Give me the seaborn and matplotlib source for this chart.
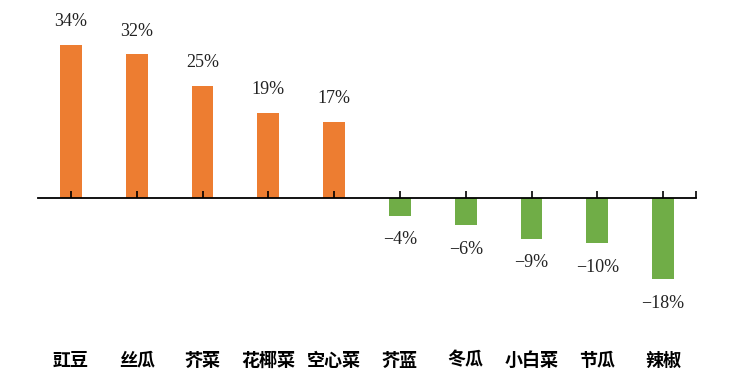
import matplotlib
matplotlib.use("Agg")
import matplotlib.pyplot as plt
import seaborn as sns
import pandas as pd

categories = ["豇豆", "丝瓜", "芥菜", "花椰菜", "空心菜", "芥蓝", "冬瓜", "小白菜", "节瓜", "辣椒"]
values = [34, 32, 25, 19, 17, -4, -6, -9, -10, -18]

df = pd.DataFrame({"cat": categories, "val": values})
df["sign"] = ["pos" if v >= 0 else "neg" for v in values]

sns.set_theme(style="white")
plt.rcParams["font.family"] = ["Noto Sans CJK SC", "DejaVu Sans"]

fig = plt.figure(figsize=(7.5, 3.87), dpi=100)
ax = fig.add_axes([38 / 750, 0, (696 - 38) / 750, 1])

sns.barplot(data=df, x="cat", y="val", hue="sign",
            palette={"pos": "#ED7D31", "neg": "#70AD47"},
            width=0.33, dodge=False, legend=False, ax=ax, saturation=1)
for p in ax.patches:
    p.set_zorder(1)
    p.set_linewidth(0)

ax.set_axisbelow(False)
ax.set_xlim(-0.5, 9.5)
ax.set_ylim(-(387 - 198) / 4.5, 198 / 4.5)

for s in ["top", "right", "left"]:
    ax.spines[s].set_visible(False)
ax.spines["bottom"].set_position(("data", 0))
ax.spines["bottom"].set_color("black")
ax.spines["bottom"].set_linewidth(1.3)
ax.spines["bottom"].set_zorder(5)
ax.set_yticks([])
ax.set_xticks(list(range(len(categories))) + [9.5])
ax.set_xticklabels([])
ax.tick_params(axis="x", direction="in", length=5, width=1.2, color="black", bottom=True)
ax.xaxis.set_zorder(5)
ax.set_xlabel("")
ax.set_ylabel("")

for i, v in enumerate(values):
    if v >= 0:
        y = v + 23 / 4.5
    else:
        y = v - 24 / 4.5
    lbl = f"{v}%".replace("-", "\u2212")
    ax.text(i, y, lbl, ha="center", va="center", fontsize=13,
            family=["Liberation Serif", "DejaVu Serif"], color="#222222")

for i, c in enumerate(categories):
    ax.text(i, -(360 - 198) / 4.5, c, ha="center", va="center", fontsize=13,
            fontweight="bold", color="black")

fig.savefig("out.png", dpi=100)
